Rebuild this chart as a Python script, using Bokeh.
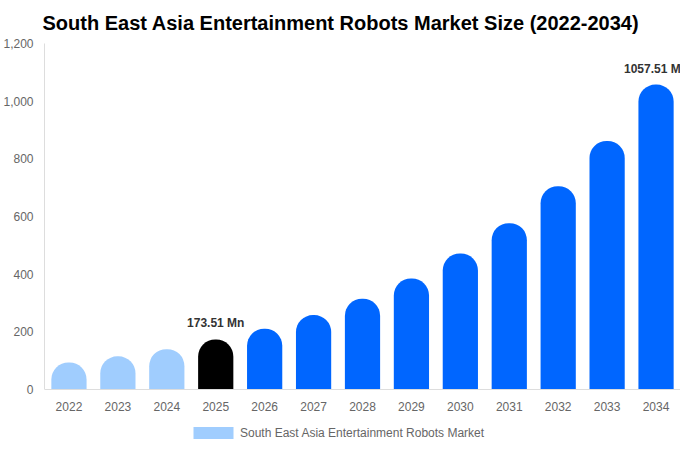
from bokeh.plotting import figure
from bokeh.models import ColumnDataSource, Range1d, FactorRange, Legend, LegendItem, NumeralTickFormatter, FixedTicker
from bokeh.core.properties import value
from bokeh.embed import file_html
from bokeh.resources import INLINE

years = ["2022", "2023", "2024", "2025", "2026", "2027", "2028", "2029", "2030", "2031", "2032", "2033", "2034"]
market = [94, 115, 140, 173.51, 211, 258, 315, 385, 472, 577, 705, 862, 1057.51]
colors = ["#a0cdfe", "#a0cdfe", "#a0cdfe", "#000000", "#0066ff", "#0066ff", "#0066ff",
          "#0066ff", "#0066ff", "#0066ff", "#0066ff", "#0066ff", "#0066ff"]
label_years = ["2025", "2034"]
label_values = [173.51, 1057.51]
label_texts = ["173.51 Mn", "1057.51 Mn"]
y_ticks = [0, 200, 400, 600, 800, 1000, 1200]
title = "South East Asia Entertainment Robots Market Size (2022-2034)"
series_name = "South East Asia Entertainment Robots Market"

FONT = "Liberation Sans"

# plot area: 346 px for 0..1200, plus 61 px below the baseline for tick labels and legend
PLOT_H = 346
EXTRA_H = 61
y_max = 1200
y_min = -y_max * EXTRA_H / PLOT_H

src = ColumnDataSource(dict(x=years, top=market, color=colors))
lsrc = ColumnDataSource(dict(x=label_years, y=label_values, text=label_texts))

p = figure(frame_width=636, frame_height=PLOT_H + EXTRA_H, output_backend="svg", toolbar_location=None,
           x_range=FactorRange(*years, range_padding=0), y_range=Range1d(y_min, y_max),
           min_border_left=42, min_border_right=0, min_border_top=43, min_border_bottom=0)
p.title.text = title
p.title.align = "left"
p.title.offset = -2
p.title.standoff = 19
p.title.text_font = FONT
p.title.text_font_size = "20px"
p.title.text_font_style = "bold"
p.title.text_color = "#000000"
p.outline_line_color = None
p.xgrid.grid_line_color = None
p.ygrid.grid_line_color = None
p.background_fill_color = "white"
p.border_fill_color = "white"

r = p.vbar(x="x", top="top", width=0.72, source=src, fill_color="color", line_color=None,
           border_radius=(17, 17, 0, 0))

p.text(x="x", y="y", text="text", source=lsrc, text_align="center", text_baseline="bottom",
       y_offset=-9, text_font=value(FONT), text_font_size="12px", text_font_style="bold",
       text_color="#333333")

for ax in (p.xaxis[0], p.yaxis[0]):
    ax.axis_line_color = "#dddddd"
    ax.major_tick_line_color = None
    ax.minor_tick_line_color = None
    ax.major_tick_out = 0
    ax.major_tick_in = 0
    ax.minor_tick_out = 0
    ax.minor_tick_in = 0
    ax.axis_label_standoff = 0
    ax.major_label_text_font = FONT
    ax.major_label_text_font_size = "12px"
    ax.major_label_text_color = "#666666"
p.yaxis[0].ticker = FixedTicker(ticks=y_ticks)
p.yaxis[0].bounds = (0, y_max)
p.yaxis[0].formatter = NumeralTickFormatter(format="0,0")
p.yaxis[0].major_label_standoff = 11
p.xaxis[0].major_label_standoff = 12
p.xaxis[0].fixed_location = 0

legend = Legend(items=[LegendItem(label=series_name, renderers=[r], index=0)],
                orientation="horizontal", location=(144, 10),
                glyph_width=50, glyph_height=15, label_text_font=FONT,
                label_text_font_size="12px", label_text_color="#666666",
                border_line_color=None, background_fill_alpha=0, margin=0, padding=4,
                label_standoff=2, label_height=14)
p.add_layout(legend, "center")

open("out.html", "w").write(file_html(p, INLINE))
